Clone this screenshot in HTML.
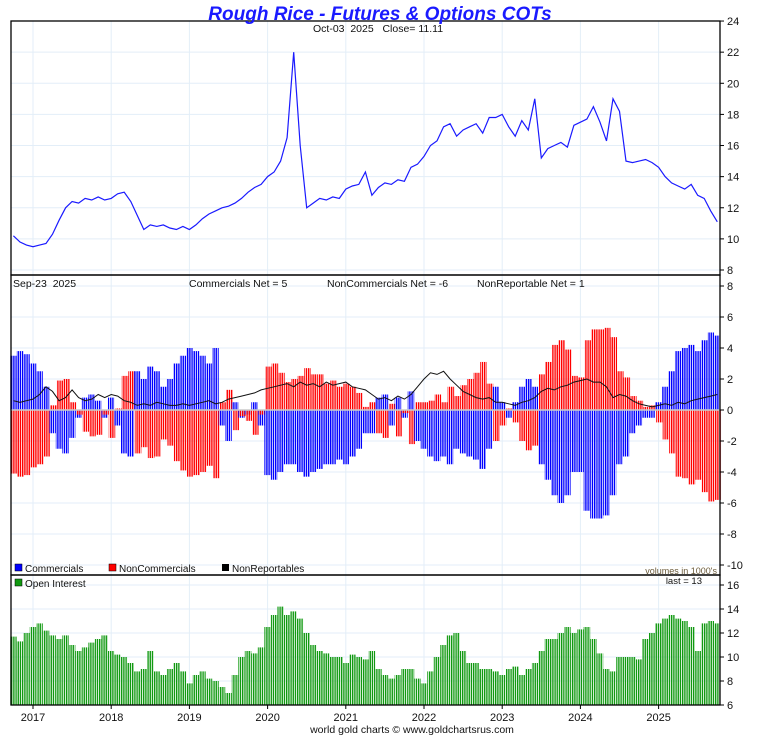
<!DOCTYPE html>
<html><head><meta charset="utf-8"><style>
body{margin:0;background:#fff;}
svg{display:block;font-family:"Liberation Sans",sans-serif;}
</style></head><body>
<svg id="c" width="760" height="735" xmlns="http://www.w3.org/2000/svg">
<defs>
<pattern id="pb" width="2.2" height="4" patternUnits="userSpaceOnUse"><rect width="1.4" height="4" fill="#0000ff"/></pattern>
<pattern id="pr" width="2.2" height="4" patternUnits="userSpaceOnUse"><rect width="1.4" height="4" fill="#ff0000"/></pattern>
<pattern id="pg" width="2.2" height="4" patternUnits="userSpaceOnUse"><rect width="1.4" height="4" fill="#119911"/></pattern>
</defs>
<g id="grid"></g><g id="marks"></g><g id="axes"></g>
<text x="380" y="20" text-anchor="middle" font-size="19" font-weight="bold" font-style="italic" fill="#1a1aff">Rough Rice - Futures &amp; Options COTs</text>
<text x="313" y="32" font-size="10.5" fill="#111" xml:space="preserve">Oct-03  2025   Close= 11.11</text>
<text x="13" y="287" font-size="10.5" fill="#111" xml:space="preserve">Sep-23  2025</text>
<text x="189" y="287" font-size="10.5" fill="#111">Commercials Net = 5</text>
<text x="327" y="287" font-size="10.5" fill="#111">NonCommercials Net = -6</text>
<text x="477" y="287" font-size="10.5" fill="#111">NonReportable Net = 1</text>
<g>
<rect x="15" y="564" width="7" height="7" fill="#0000ff" stroke="#000" stroke-width="0.5"/><text x="25" y="572" font-size="10" fill="#111">Commercials</text>
<rect x="109" y="564" width="7" height="7" fill="#ff0000" stroke="#000" stroke-width="0.5"/><text x="119" y="572" font-size="10" fill="#111">NonCommercials</text>
<rect x="222" y="564" width="7" height="7" fill="#000"/><text x="232" y="572" font-size="10" fill="#111">NonReportables</text>
</g>
<text x="717" y="574" text-anchor="end" font-size="9" fill="#6a5a3a">volumes in 1000's</text>
<rect x="15" y="579" width="7" height="7" fill="#119911" stroke="#000" stroke-width="0.5"/>
<text x="25" y="587" font-size="10" fill="#111">Open Interest</text>
<text x="702" y="584" text-anchor="end" font-size="9.5" fill="#111">last = 13</text>
<text x="412" y="733" text-anchor="middle" font-size="10.5" fill="#111">world gold charts © www.goldchartsrus.com</text>
</svg>
<script>
const price=[10.2,9.8,9.6, 9.5,9.6,9.7,10.3,11.2,12.0,12.4,12.3,12.6,12.5,12.7,12.5, 12.6,12.9,13.0,12.4,11.5,10.6,10.9,10.8,10.9,10.7,10.6,10.8, 10.6,10.9,11.3,11.6,11.8,12.0,12.1,12.3,12.6,13.0,13.3,13.5, 14.0,14.3,15.0,16.5,22.0,16.0,12.0,12.3,12.6,12.5,12.7,12.6, 13.2,13.4,13.5,14.3,12.8,13.3,13.6,13.5,13.8,13.7,14.6,14.8, 15.3,16.0,16.3,17.2,17.4,16.6,17.0,17.2,17.4,16.8,17.8,17.8, 18.0,17.2,16.6,17.6,17.0,19.0,15.2,15.8,16.0,16.2,15.9,17.3, 17.5,17.7,18.5,17.5,16.3,19.0,18.2,15.0,14.9,15.0,15.1,14.9, 14.6,14.0,13.6,13.4,13.2,13.5,12.8,12.6,11.8,11.1];
const commercials=[3.5,3.8,3.6, 3.0,2.5,1.5,-1.5,-2.5,-2.8,-1.8,-0.5,0.8,1.0,0.6,-0.5, 0.8,-1.0,-2.8,-3.0,2.5,2.0,2.8,2.5,1.5,2.0,3.0,3.5, 4.0,3.8,3.5,3.0,4.0,-1.0,-2.0,0.5,-0.5,-0.3,0.5,-1.0, -4.2,-4.5,-4.0,-3.5,-3.5,-4.0,-4.3,-4.0,-3.8,-3.5,-3.5,-3.2, -3.5,-3.0,-2.5,-1.5,-1.5,0.8,1.0,-1.0,0.8,-0.5,1.2,-2.0, -2.5,-3.0,-3.3,-3.0,-3.5,-2.5,-2.8,-3.0,-3.2,-3.8,-2.5,1.5, 0.5,-0.5,0.5,1.5,2.0,1.5,-3.5,-4.5,-5.5,-6.0,-5.5,-4.0, -4.0,-6.5,-7.0,-7.0,-6.8,-5.5,-3.5,-3.0,-1.5,-1.0,-0.5,-0.5, 0.5,1.5,2.5,3.8,4.0,4.2,3.8,4.5,5.0,4.8];
const nonReportables=[0.6,0.5,0.6, 0.7,1.0,1.5,1.2,0.6,0.8,1.3,0.8,0.6,0.7,1.0,0.8, 1.0,0.9,0.6,0.5,0.3,0.4,0.3,0.5,0.4,0.3,0.3,0.4, 0.3,0.4,0.5,0.6,0.4,0.5,0.7,0.8,0.9,1.0,1.1,1.3, 1.4,1.5,1.6,1.7,1.5,1.8,1.6,1.7,1.5,1.8,1.6,1.7, 1.8,1.5,1.4,1.3,1.0,0.7,0.8,0.6,0.9,0.7,1.0,1.5, 2.0,2.4,2.3,2.5,2.0,1.6,1.2,1.0,0.8,0.7,0.8,0.5, 0.5,0.4,0.3,0.5,0.6,0.8,1.2,1.4,1.3,1.5,1.6,1.8, 1.9,2.0,1.8,1.8,1.5,0.8,1.0,0.9,0.6,0.4,0.3,0.2, 0.3,0.4,0.3,0.5,0.4,0.6,0.7,0.8,0.9,1.0];
const nonCommercials=[-4.1,-4.3,-4.2, -3.7,-3.5,-3.0,0.3,1.9,2.0,0.5,-0.3,-1.4,-1.7,-1.6,-0.3, -1.8,0.1,2.2,2.5,-2.8,-2.4,-3.1,-3.0,-1.9,-2.3,-3.3,-3.9, -4.3,-4.2,-4.0,-3.6,-4.4,0.5,1.3,-1.3,-0.4,-0.7,-1.6,-0.3, 2.8,3.0,2.4,1.8,2.0,2.2,2.7,2.3,2.3,1.7,1.9,1.5, 1.7,1.5,1.1,0.2,0.5,-1.5,-1.8,0.4,-1.7,-0.2,-2.2,0.5, 0.5,0.6,1.0,0.5,1.5,0.9,1.6,2.0,2.4,3.1,1.7,-2.0, -1.0,0.1,-0.8,-2.0,-2.6,-2.3,2.3,3.1,4.2,4.5,3.9,2.2, 2.1,4.5,5.2,5.2,5.3,4.7,2.5,2.1,0.9,0.6,0.2,0.3, -0.8,-1.9,-2.8,-4.3,-4.4,-4.8,-4.5,-5.3,-5.9,-5.8];
const openInterest=[11.7,11.3,12.0, 12.5,12.8,12.2,11.8,11.5,11.8,11.0,10.5,10.8,11.2,11.5,11.8, 10.5,10.2,10.0,9.5,8.8,9.0,10.5,8.8,8.5,9.0,9.5,8.8, 7.8,8.5,8.8,8.2,8.0,7.5,7.0,8.5,10.0,10.5,10.3,10.8, 12.5,13.5,14.2,13.5,13.8,13.2,12.0,11.0,10.5,10.3,10.0,10.0, 9.5,10.2,10.0,9.8,10.5,9.0,8.5,8.2,8.5,9.0,9.0,8.2, 7.8,8.8,10.0,11.0,11.8,12.0,10.5,9.5,9.5,9.0,9.0,8.8, 8.5,9.0,9.2,8.5,9.0,9.5,10.5,11.5,11.5,12.0,12.5,12.0, 12.3,12.5,11.5,10.3,9.0,8.8,10.0,10.0,10.0,9.8,11.5,12.0, 12.8,13.2,13.5,13.2,13.0,12.5,10.5,12.8,13.0,12.8];
const yearLabels=["2017","2018","2019","2020","2021","2022","2023","2024","2025"];
const priceTicks=[8,10,12,14,16,18,20,22,24];
const cotTicks=[8,6,4,2,0,-2,-4,-6,-8,-10];
const oiTicks=[6,8,10,12,14,16];

const NS="http://www.w3.org/2000/svg";
const L=11,R=720;
function mk(parent,tag,attrs){const e=document.createElementNS(NS,tag);for(const k in attrs)e.setAttribute(k,attrs[k]);parent.appendChild(e);return e;}
const xYear=y=>33+(y-2017)*78.2;
const xIdx=i=>xYear(2016.75+i/12);
const yP=v=>270-(v-8)*15.56;
const yC=v=>410-v*15.5;
const yO=v=>705-(v-6)*12;
const grid=document.getElementById('grid'),marks=document.getElementById('marks'),axes=document.getElementById('axes');
const gc="#e3eef8";
yearLabels.forEach(lbl=>{const x=xYear(+lbl);
 const g=mk(grid,'line',{x1:x,x2:x,y1:21,y2:705,stroke:gc});
 
 const t=mk(axes,'text',{x:x,y:721,'text-anchor':'middle','font-size':11,fill:'#111'});t.textContent=lbl;
 
 mk(axes,'line',{x1:x,x2:x,y1:705,y2:709,stroke:'#000'});
});
function yAxis(ticks,fy,top,bot,name){ticks.forEach(v=>{const y=fy(v);
 if(y>top+1&&y<bot-1)mk(grid,'line',{x1:L,x2:R,y1:y,y2:y,stroke:gc});
 mk(axes,'line',{x1:R,x2:R+4,y1:y,y2:y,stroke:'#000'});
 const t=mk(axes,'text',{x:R+7,y:y+4,'font-size':11,fill:'#111'});t.textContent=v;
 });}
yAxis(priceTicks,yP,21,275,'price-tick-label');
yAxis(cotTicks,yC,275,575,'cot-tick-label');
yAxis(oiTicks,yO,575,705,'oi-tick-label');
// price line
let d='';price.forEach((v,i)=>{d+=(i?'L':'M')+xIdx(i).toFixed(1)+' '+yP(v).toFixed(1);});
const pl=mk(marks,'path',{d:d,fill:'none',stroke:'#1a1aff','stroke-width':1.2});

const bw=6.5;
function bar(v,fy,base,fill,name){const y0=fy(base),y1=fy(v);const x=0;
 return {y:Math.min(y0,y1),h:Math.abs(y1-y0)};}
commercials.forEach((v,i)=>{const x=xIdx(i)-bw/2;
 const a=bar(v,yC,0);const r=mk(marks,'rect',{x:x,y:a.y,width:bw,height:a.h,fill:'url(#pb)'});
 
 const n=nonCommercials[i];const b=bar(n,yC,0);
 const r2=mk(marks,'rect',{x:x+0.8,y:b.y,width:bw,height:b.h,fill:'url(#pr)'});
 
});
openInterest.forEach((v,i)=>{const x=xIdx(i)-bw/2;const a=bar(v,yO,6);
 const r=mk(marks,'rect',{x:x,y:a.y,width:bw,height:a.h,fill:'url(#pg)'});
 });
let d2='';nonReportables.forEach((v,i)=>{d2+=(i?'L':'M')+xIdx(i).toFixed(1)+' '+yC(v).toFixed(1);});
const nl=mk(marks,'path',{d:d2,fill:'none',stroke:'#111','stroke-width':1});

mk(marks,'line',{x1:L,x2:R,y1:410,y2:410,stroke:'#ccc','stroke-width':1.5});
// frames
[[21,275],[275,575],[575,705]].forEach(p=>{const f=mk(axes,'rect',{x:L,y:p[0],width:R-L,height:p[1]-p[0],fill:'none',stroke:'#000','stroke-width':1.3});
 });
mk(axes,'line',{x1:L,x2:R,y1:575,y2:575,stroke:'#000'});
</script>
</body></html>
